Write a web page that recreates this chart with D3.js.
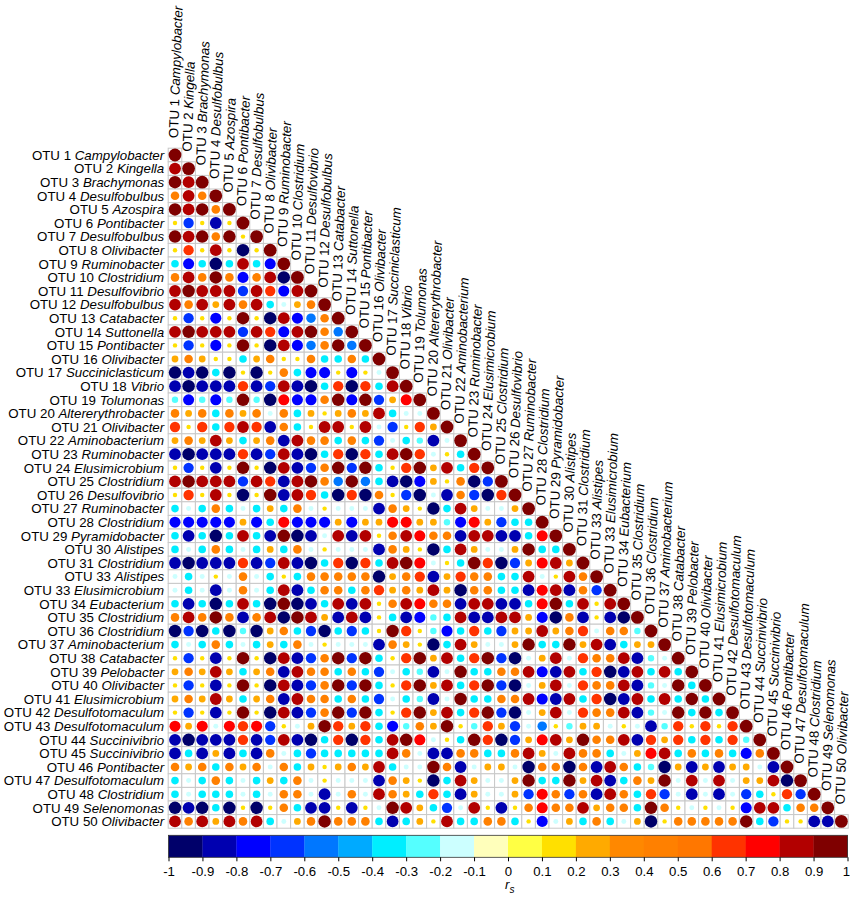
<!DOCTYPE html>
<html>
<head>
<meta charset="utf-8">
<script src="https://cdn.jsdelivr.net/npm/d3@7"></script>
<style>
  body { margin: 0; background: #fff; }
  svg text { font-family: Arial, "Liberation Sans", sans-serif; fill: #000; }
</style>
</head>
<body>
<svg id="chart" width="850" height="897"></svg>
<script>
const otuIds = [1, 2, 3, 4, 5, 6, 7, 8, 9, 10, 11, 12, 13, 14, 15, 16, 17, 18, 19, 20,
  21, 22, 23, 24, 25, 26, 27, 28, 29, 30, 31, 33, 33, 34, 35, 36, 37, 38, 39, 40,
  41, 42, 43, 44, 45, 46, 47, 48, 49, 50];

const genera = ['Campylobacter', 'Kingella', 'Brachymonas', 'Desulfobulbus', 'Azospira',
  'Pontibacter', 'Desulfobulbus', 'Olivibacter', 'Ruminobacter', 'Clostridium',
  'Desulfovibrio', 'Desulfobulbus', 'Catabacter', 'Suttonella', 'Pontibacter',
  'Olivibacter', 'Succiniclasticum', 'Vibrio', 'Tolumonas', 'Altererythrobacter',
  'Olivibacter', 'Aminobacterium', 'Ruminobacter', 'Elusimicrobium', 'Clostridium',
  'Desulfovibrio', 'Ruminobacter', 'Clostridium', 'Pyramidobacter', 'Alistipes',
  'Clostridium', 'Alistipes', 'Elusimicrobium', 'Eubacterium', 'Clostridium',
  'Clostridium', 'Aminobacterium', 'Catabacter', 'Pelobacter', 'Olivibacter',
  'Elusimicrobium', 'Desulfotomaculum', 'Desulfotomaculum', 'Succinivibrio', 'Succinivibrio',
  'Pontibacter', 'Desulfotomaculum', 'Clostridium', 'Selenomonas', 'Olivibacter'];

// lower triangle of the Spearman matrix, row i holds columns 1..i
const rs = [
  [1],
  [.85,1],
  [.95,.85,1],
  [.45,.85,.45,1],
  [.95,.85,.95,.45,1],
  [.12,-.65,.12,-.85,.12,1],
  [.95,.85,.95,.45,.95,.12,1],
  [.12,.65,.12,.85,.12,-.95,.12,1],
  [-.35,-.75,-.35,-.95,-.35,.85,-.35,-.75,1],
  [.45,.85,.45,.95,.45,-.75,.45,.85,-.95,1],
  [.85,.95,.85,.85,.85,-.65,.85,.65,-.75,.85,1],
  [.85,.45,.85,.28,.85,.45,.85,-.35,-.15,.28,.45,1],
  [.12,-.65,.12,-.75,.12,.95,.12,-.95,.85,-.75,-.55,.45,1],
  [.85,.95,.85,.85,.85,-.65,.85,.65,-.75,.85,.95,.45,-.55,1],
  [.12,-.65,.12,-.75,.12,.95,.12,-.95,.85,-.75,-.55,.45,.95,-.55,1],
  [.28,.45,.28,.12,.12,-.35,.28,.45,.12,.12,.45,-.35,-.35,.45,-.35,1],
  [-.95,-.85,-.95,-.35,-.95,.12,-.95,.12,.45,-.35,-.75,-.75,.12,-.75,.12,-.15,1],
  [-.85,-.95,-.85,-.85,-.85,.65,-.85,-.65,.85,-.85,-.95,-.35,.65,-.95,.65,-.35,.85,1],
  [-.25,-.75,-.25,-.75,-.25,.95,-.25,-.95,.75,-.75,-.75,.45,.95,-.75,.95,-.65,.28,.75,1],
  [.45,.28,.45,-.35,.45,.28,.45,-.15,.45,-.35,.28,.12,.28,.45,.28,.85,-.35,-.15,-.15,1],
  [.65,.12,.65,-.35,.65,.85,.65,-.85,.45,-.35,.12,.85,.85,.12,.85,-.15,-.65,.12,.65,.28,1],
  [.28,.45,.28,.85,.28,-.35,.28,.45,-.85,.85,.45,.45,-.35,.45,-.35,-.65,-.15,-.35,-.25,-.85,-.15,1],
  [-.85,-.95,-.85,-.85,-.85,.65,-.85,-.65,.85,-.85,-.95,-.35,.65,-.95,.65,-.35,.85,.95,.65,-.15,.12,-.35,1],
  [.12,-.65,.12,-.85,.12,.95,.12,-.95,.85,-.85,-.65,.45,.95,-.65,.95,-.35,.12,.65,.95,.28,.85,-.35,.65,1],
  [.85,.95,.85,.85,.85,-.65,.85,.65,-.85,.85,.95,.45,-.55,.95,-.55,-.35,-.85,-.95,-.75,.28,.12,.45,-.95,-.65,1],
  [.12,.65,.12,.85,.12,-.95,.12,.95,-.85,.85,.65,-.35,-.95,.65,-.95,.45,.12,-.65,-.95,-.15,-.85,.45,-.65,-.95,.65,1],
  [-.35,-.15,-.35,.45,-.35,-.15,-.35,.28,-.35,.45,-.15,.12,-.15,-.15,-.15,-.85,.45,.28,.12,-.95,-.35,.85,.28,-.15,-.15,.28,1],
  [-.75,-.75,-.75,-.75,-.75,.28,-.75,-.35,.75,-.75,-.75,-.75,.28,-.75,.28,.28,.75,.75,.28,.28,-.25,-.75,.75,.28,-.65,-.35,-.35,1],
  [-.35,-.85,-.35,-.95,-.35,.85,-.35,-.85,.95,-.95,-.85,-.15,.85,-.85,.85,.12,.45,.85,.75,.45,.45,-.85,.85,.85,-.85,-.85,-.35,.75,1],
  [-.35,-.15,-.35,.45,-.35,-.15,-.35,.28,-.35,.45,-.15,.12,-.15,-.15,-.15,-.85,.45,.28,.12,-.95,-.35,.85,.28,-.15,-.15,.28,.95,-.35,-.35,1],
  [-.85,-.95,-.85,-.85,-.85,.65,-.85,-.65,.85,-.85,-.95,-.35,.65,-.95,.65,-.35,.85,.95,.75,-.15,.12,-.35,.95,.65,-.95,-.65,.28,.75,.85,.28,1],
  [-.15,-.35,-.15,.12,-.15,.45,-.15,-.35,.12,-.35,.45,.45,.45,.45,.45,-.95,.28,.45,.65,-.85,.28,.65,.45,.45,-.35,-.35,.85,-.15,.12,.85,.45,1],
  [-.15,-.35,-.15,-.85,-.15,.45,-.15,-.35,.85,-.85,-.35,.45,.45,-.35,.45,.65,.28,.45,.28,.85,.28,-.95,.45,.45,-.35,-.35,-.85,.75,.85,-.85,.45,-.65,1],
  [-.35,-.85,-.35,-.95,-.35,.85,-.35,-.95,.95,-.95,-.85,-.35,.85,-.85,.85,.12,.45,.85,.75,.45,.45,-.85,.85,.85,-.85,-.85,-.35,.75,.95,-.35,.85,.12,.85,1],
  [.45,.85,.45,.95,.45,-.85,.45,.85,-.95,.95,.85,.28,-.85,.85,-.85,.12,-.35,-.85,-.75,-.25,-.35,.85,-.85,-.85,.85,.85,.28,-.75,-.95,.45,-.85,.12,-.85,-.95,1],
  [-.95,-.65,-.95,-.35,-.95,-.25,-.95,.28,.45,-.35,-.65,-.95,-.35,-.65,-.35,.12,.95,.65,.12,-.25,-.75,-.35,.65,-.35,-.65,.28,.28,.85,.28,.45,.65,-.15,.45,.45,-.25,1],
  [-.35,-.15,-.35,.45,-.35,-.15,-.35,.28,-.35,.45,-.15,.12,-.15,-.15,-.15,-.85,.45,.28,.12,-.95,-.35,.85,.28,-.15,-.15,.28,.95,-.35,-.35,.95,.28,.85,-.85,-.35,.28,.28,1],
  [.12,-.65,.12,-.85,.12,.95,.12,-.95,.85,-.85,-.65,.45,.95,-.65,.95,-.35,.12,.65,.95,.28,.85,-.35,.65,.95,-.65,-.95,-.15,.28,.85,-.15,.65,.45,.45,.85,-.85,-.25,-.15,1],
  [.28,.45,.28,.85,.28,-.35,.28,.45,-.85,.85,.45,.45,-.35,.45,-.35,-.65,-.15,-.35,-.25,-.85,-.15,.95,-.35,-.35,.45,.45,.85,-.75,-.85,.85,-.35,.65,-.95,-.85,.85,-.35,.85,-.35,1],
  [.12,-.65,.12,-.85,.12,.95,.12,-.95,.85,-.85,-.65,.45,.95,-.65,.95,-.35,.12,.65,.95,.28,.85,-.35,.65,.95,-.65,-.95,-.15,.28,.85,-.15,.65,.45,.45,.85,-.85,-.25,-.15,.95,-.35,1],
  [.28,.45,.28,.85,.28,-.35,.28,.45,-.85,.85,.45,.45,-.35,.45,-.35,-.65,-.15,-.35,-.25,-.85,-.15,.95,-.35,-.35,.45,.45,.85,-.75,-.85,.85,-.35,.65,-.95,-.85,.85,-.35,.85,-.35,.95,-.35,1],
  [.12,-.65,.12,-.85,.12,.95,.12,-.95,.85,-.85,-.65,.45,.95,-.65,.95,-.35,.12,.65,.95,.28,.85,-.35,.65,.95,-.65,-.95,-.15,.28,.85,-.15,.65,.45,.45,.85,-.85,-.25,-.15,.95,-.35,.95,-.35,1],
  [.75,.28,.75,-.15,.75,.65,.75,-.65,.12,-.15,.28,.95,.65,.28,.65,-.35,-.75,-.25,.45,.28,.95,.12,-.25,.65,.28,-.65,-.15,-.55,.12,-.25,.28,.28,-.15,.12,-.15,-.85,-.25,.65,.12,.65,.12,.65,1],
  [-.85,-.95,-.85,-.85,-.85,.65,-.85,-.65,.85,-.85,-.95,-.35,.65,-.95,.65,-.35,.85,.95,.75,-.15,.12,-.35,.95,.65,-.95,-.65,.28,.75,.85,.28,.95,.45,.45,.85,-.85,.65,.28,.65,-.35,.65,-.35,.65,-.25,1],
  [-.85,-.35,-.85,.28,-.85,-.35,-.85,.45,-.15,-.35,-.65,-.35,-.35,-.35,-.35,-.35,.85,.45,-.15,-.85,-.85,.45,.45,-.35,-.35,.45,.85,.28,-.15,.85,.45,.45,-.35,-.15,.28,.75,.85,-.35,.45,-.35,.45,-.35,-.75,.45,1],
  [.45,.28,.45,-.35,.45,.28,.45,-.15,.45,-.35,.28,.12,.28,.45,.28,.85,-.35,-.15,-.15,.95,.45,-.85,-.15,.28,.28,-.15,-.95,.45,.45,-.95,.45,-.85,.85,.45,-.35,-.25,-.95,.28,-.85,.28,-.85,.28,.28,-.15,-.85,1],
  [-.35,-.15,-.35,.45,-.35,-.15,-.35,.28,-.35,.45,-.15,.12,-.15,-.15,-.15,-.85,.45,.28,.12,-.95,-.35,.85,.28,-.15,-.15,.28,.95,-.35,-.35,.95,.28,.85,-.85,-.35,.45,.28,.95,-.15,.85,-.15,.85,-.15,.28,.28,.85,-.95,1],
  [-.35,-.15,-.35,-.35,-.35,-.15,-.35,-.15,.45,.45,-.15,-.85,-.15,.45,-.15,.85,.45,.28,-.35,.65,-.35,-.85,.28,-.15,-.15,.28,-.65,.75,.45,-.65,.45,-.85,.85,.45,-.35,.65,-.65,-.15,-.85,-.15,-.85,-.15,-.65,-.35,.12,.65,-.65,1],
  [-.95,-.85,-.95,-.35,-.95,.12,-.95,.12,.45,-.35,-.85,-.85,.12,-.85,.12,-.15,.95,.85,.28,-.35,-.65,-.15,.85,.12,-.85,.12,.45,.75,.45,.45,.85,.28,.45,.45,-.35,.95,.45,.12,-.15,.12,-.15,.12,-.75,.85,.85,-.35,.45,.45,1],
  [.85,.45,.85,.28,.85,.45,.85,-.35,-.15,.28,.45,.95,.45,.45,.45,-.35,-.85,-.35,.28,.12,.85,-.35,-.35,.45,.45,-.35,.12,-.75,-.15,.28,-.35,.45,-.35,-.15,.28,-.95,.12,.45,.45,.45,.45,.45,.95,-.35,-.65,.12,.12,-.85,-.85,1]
];

const binColors = ['#00006a', '#0000b0', '#0000ff', '#0033ff', '#0077ff', '#00aaff', '#00eeff',
  '#55ffff', '#ccffff', '#ffffbb', '#ffff44', '#ffe000', '#ffaa00', '#ff8800', '#ff8000',
  '#ff7700', '#ff3300', '#ff0000', '#b20000', '#7f0000'];

const tickValues = [-1, -0.9, -0.8, -0.7, -0.6, -0.5, -0.4, -0.3, -0.2, -0.1,
  0, 0.1, 0.2, 0.3, 0.4, 0.5, 0.6, 0.7, 0.8, 0.9, 1];

const svg = d3.select('#chart');
const n = otuIds.length;
const gridLeft = 168.2, gridTop = 148.2, cellSize = 13.6;
const labelSize = 13.3;
const tickSize = 13.2;

const x = d3.scaleBand().domain(d3.range(n)).range([gridLeft, gridLeft + n * cellSize]);
const y = d3.scaleBand().domain(d3.range(n)).range([gridTop, gridTop + n * cellSize]);
const color = d3.scaleQuantize().domain([-1, 1]).range(binColors);
const radius = d3.scaleSqrt().domain([0, 1]).range([0, 6.4]);

const cells = [];
rs.forEach((row, i) => row.forEach((v, j) => cells.push({ i, j, v })));

// grid of the lower triangle
svg.append('g')
  .selectAll('rect')
  .data(cells)
  .join('rect')
  .attr('x', d => x(d.j))
  .attr('y', d => y(d.i))
  .attr('width', x.bandwidth())
  .attr('height', y.bandwidth())
  .attr('fill', '#fff')
  .attr('stroke', '#c8c8c8')
  .attr('stroke-width', 1);

svg.append('g')
  .selectAll('circle')
  .data(cells)
  .join('circle')
  .attr('cx', d => x(d.j) + x.bandwidth() / 2)
  .attr('cy', d => y(d.i) + y.bandwidth() / 2)
  .attr('r', d => radius(Math.abs(d.v)))
  .attr('fill', d => color(d.v));

function addLabel(sel, i) {
  sel.append('tspan').text('OTU ' + otuIds[i] + ' ');
  sel.append('tspan').attr('font-style', 'italic').text(genera[i]);
}

// row labels
svg.append('g')
  .selectAll('text')
  .data(d3.range(n))
  .join('text')
  .attr('x', gridLeft - 4)
  .attr('y', i => y(i) + y.bandwidth() / 2)
  .attr('dy', '0.36em')
  .attr('text-anchor', 'end')
  .attr('font-size', labelSize)
  .each(function(i) { addLabel(d3.select(this), i); });

// column labels, standing above the diagonal
svg.append('g')
  .selectAll('text')
  .data(d3.range(n))
  .join('text')
  .attr('transform', i => `translate(${x(i) + x.bandwidth() / 2 + 3},${y(i) - 10}) rotate(-88)`)
  .attr('font-size', labelSize)
  .each(function(i) { addLabel(d3.select(this), i); });

// colour bar
const barTop = 835.3, barHeight = 22;
const cbX = d3.scaleLinear().domain([-1, 1]).range([168.5, 847.5]);
const bins = d3.range(binColors.length);

svg.append('g')
  .selectAll('rect')
  .data(bins)
  .join('rect')
  .attr('x', k => cbX(tickValues[k]))
  .attr('y', barTop)
  .attr('width', k => cbX(tickValues[k + 1]) - cbX(tickValues[k]) + 0.3)
  .attr('height', barHeight)
  .attr('fill', k => binColors[k]);

svg.append('rect')
  .attr('x', cbX(-1))
  .attr('y', barTop)
  .attr('width', cbX(1) - cbX(-1))
  .attr('height', barHeight)
  .attr('fill', 'none')
  .attr('stroke', '#333')
  .attr('stroke-width', 0.8);

const axis = svg.append('g')
  .attr('transform', `translate(0,${barTop + barHeight})`)
  .call(d3.axisBottom(cbX)
    .tickValues(tickValues)
    .tickFormat(d => String(d))
    .tickSize(4)
    .tickPadding(5));
axis.select('.domain').remove();
axis.selectAll('line').attr('stroke', '#000');
axis.selectAll('text')
  .attr('font-size', tickSize)
  .attr('font-family', 'Arial, "Liberation Sans", sans-serif')
  .attr('fill', '#000')
  .attr('dx', d => d === 1 ? -1.5 : 0);

const title = svg.append('text')
  .attr('x', cbX(0) - 3)
  .attr('y', 889)
  .attr('font-size', tickSize)
  .attr('font-style', 'italic');
title.append('tspan').text('r');
title.append('tspan')
  .attr('dy', 4)
  .attr('font-size', 10)
  .text('s');
</script>
</body>
</html>
